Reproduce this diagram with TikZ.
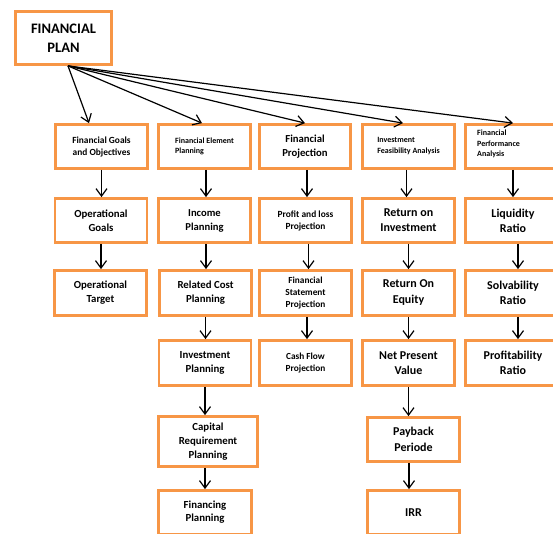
\documentclass[tikz,border=0pt]{standalone}
\usepackage{fontspec}
\setmainfont{Carlito}
\usetikzlibrary{arrows.meta}
\definecolor{borange}{RGB}{247,150,70}
\newcommand{\fsz}[2]{\fontsize{#1}{#2}\selectfont\bfseries}
\tikzset{
  box/.style={draw=borange, line width=2.8pt, fill=white, align=center, inner sep=0pt,
    minimum width=92pt, minimum height=44pt},
  arr/.style={-{Straight Barb[length=7.5pt,width=11pt]}, line width=1.2pt, black},
  lbl/.style={align=left, inner sep=0pt}
}
\begin{document}
\begin{tikzpicture}[x=1pt,y=-1pt]
\useasboundingbox (0,0) rectangle (553,533);
\clip (0,0) rectangle (553,533);
\fill[white] (0,0) rectangle (553,533);
% top
\node[box, minimum width=96pt, minimum height=53pt, font=\fsz{14.5}{19}] (plan) at (63.5,38) {FINANCIAL\\PLAN};
% row 1
\node[box, font=\fsz{9.4}{12}] (r1c1) at (101.5,146.5) {Financial Goals\\and Objectives};
\node[box, font=\fsz{8}{10}, align=left] (r1c2) at (204.5,146.5) {Financial Element\\Planning};
\node[box, font=\fsz{10.7}{14}, minimum width=91pt] (r1c3) at (305,146.5) {Financial\\Projection};
\node[box, font=\fsz{8}{11}, align=left] (r1c4) at (408.5,146.5) {Investment\\Feasibility Analysis};
\node[box, minimum width=95pt] (r1c5) at (513,146.5) {};
\node[lbl, font=\fsz{8}{10.5}, anchor=west] (r1c5t) at (477,144) {Financial\\Performance\\Analysis};
% row 2
\node[box, font=\fsz{10.8}{14}] (r2c1) at (101,220.5) {Operational\\Goals};
\node[box, font=\fsz{10.6}{14}] (r2c2) at (204.5,220.5) {Income\\Planning};
\node[box, font=\fsz{9.4}{12}] (r2c3) at (305.5,220.5) {Profit and loss\\Projection};
\node[box, font=\fsz{12}{15}] (r2c4) at (408.5,220.5) {Return on\\Investment};
\node[box, font=\fsz{12}{15}, minimum width=95pt] (r2c5) at (513,220.5) {Liquidity\\Ratio};
% row 3
\node[box, font=\fsz{10.8}{14}, minimum height=45pt] (r3c1) at (100.5,293) {Operational\\Target};
\node[box, font=\fsz{10.8}{14}, minimum height=45pt] (r3c2) at (205.5,293) {Related Cost\\Planning};
\node[box, font=\fsz{9.3}{12}, minimum height=45pt] (r3c3) at (305.5,293) {Financial\\Statement\\Projection};
\node[box, font=\fsz{12}{16}, minimum height=45pt] (r3c4) at (408.5,293) {Return On\\Equity};
\node[box, font=\fsz{12}{15.5}, minimum height=45pt, minimum width=95pt] (r3c5) at (513,293) {Solvability\\Ratio};
% row 4
\node[box, font=\fsz{10.8}{14}, minimum height=45pt] (r4c2) at (205,363) {Investment\\Planning};
\node[box, font=\fsz{9.3}{12}, minimum height=45pt] (r4c3) at (305.5,363) {Cash Flow\\Projection};
\node[box, font=\fsz{12}{15.5}, minimum height=45pt] (r4c4) at (408.5,363) {Net Present\\Value};
\node[box, font=\fsz{12}{15.5}, minimum height=45pt, minimum width=95pt] (r4c5) at (513,363) {Profitability\\Ratio};
% row 5
\node[box, font=\fsz{10.8}{14}, minimum width=99pt, minimum height=50pt] (r5c2) at (208,441.5) {Capital\\Requirement\\Planning};
\node[box, font=\fsz{12}{15.5}] (r5c4) at (413.5,439.5) {Payback\\Periode};
% row 6
\node[box, font=\fsz{10.8}{13}, minimum width=93pt] (r6c2) at (205,512.5) {Financing\\Planning};
\node[box, font=\fsz{12}{15}] (r6c4) at (413.5,512.5) {IRR};
% arrows from plan
\draw[arr] ([xshift=4.5pt]plan.south) -- ([xshift=-12.5pt]r1c1.north);
\draw[arr] ([xshift=4.5pt]plan.south) -- ([xshift=-2.5pt]r1c2.north);
\draw[arr] ([xshift=4.5pt]plan.south) -- (r1c3.north);
\draw[arr] ([xshift=4.5pt]plan.south) -- ([xshift=-5.5pt]r1c4.north);
\draw[arr] ([xshift=4.5pt]plan.south) -- (r1c5.north);
% column arrows
\draw[arr] (r1c1.south) -- (r1c1.south |- r2c1.north);
\draw[arr] (r2c1.south) -- (r2c1.south |- r3c1.north);
\draw[arr] ([xshift=1.5pt]r1c2.south) -- ([xshift=1.5pt]r1c2.south |- r2c2.north);
\draw[arr] ([xshift=1.5pt]r2c2.south) -- ([xshift=1.5pt]r2c2.south |- r3c2.north);
\draw[arr] (r3c2.south) -- (r3c2.south |- r4c2.north);
\draw[arr] (r4c2.south) -- (r4c2.south |- r5c2.north);
\draw[arr] (r6c2.north |- r5c2.south) -- (r6c2.north);
\draw[arr] ([xshift=2pt]r1c3.south) -- ([xshift=2pt]r1c3.south |- r2c3.north);
\draw[arr] ([xshift=3pt]r2c3.south) -- ([xshift=3pt]r2c3.south |- r3c3.north);
\draw[arr] ([xshift=1.5pt]r3c3.south) -- ([xshift=1.5pt]r3c3.south |- r4c3.north);
\draw[arr] ([xshift=-2pt]r1c4.south) -- ([xshift=-2pt]r1c4.south |- r2c4.north);
\draw[arr] (r2c4.south) -- (r2c4.south |- r3c4.north);
\draw[arr] (r3c4.south) -- (r3c4.south |- r4c4.north);
\draw[arr] (r4c4.south) -- (r4c4.south |- r5c4.north);
\draw[arr] ([xshift=-4.5pt]r5c4.south) -- ([xshift=-4.5pt]r5c4.south |- r6c4.north);
\draw[arr] (r1c5.south) -- (r1c5.south |- r2c5.north);
\draw[arr] ([xshift=5pt]r2c5.south) -- ([xshift=5pt]r2c5.south |- r3c5.north);
\draw[arr] ([xshift=5pt]r3c5.south) -- ([xshift=5pt]r3c5.south |- r4c5.north);
\end{tikzpicture}
\end{document}
